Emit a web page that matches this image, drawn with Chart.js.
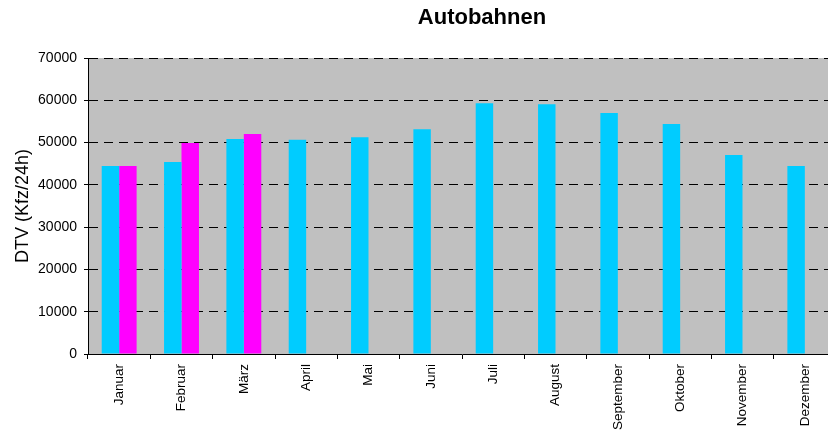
<!DOCTYPE html>
<html lang="de">
<head>
<meta charset="utf-8">
<title>Autobahnen</title>
<script src="https://cdn.jsdelivr.net/npm/chart.js@4"></script>
<style>
  html, body { margin: 0; padding: 0; background: #fff; overflow: hidden; }
  #chart { display: block; }
</style>
</head>
<body>
<canvas id="chart" width="842" height="432"></canvas>
<script>
// ─── Data ────────────────────────────────────────────
const months = ["Januar", "Februar", "März", "April", "Mai", "Juni", "Juli", "August", "September", "Oktober", "November", "Dezember"];
const dtvPrev = [44450, 45400, 50840, 50680, 51240, 53130, 59280, 59050, 56990, 54390, 47060, 44450];
const dtvCurr = [44450, 49900, 52020, null, null, null, null, null, null, null, null, null];
const yTicks = [0, 10000, 20000, 30000, 40000, 50000, 60000, 70000];

const FONT = "Arial, 'Liberation Sans', sans-serif";

// ─── Plugins ─────────────────────────────────────────
const plotBackground = {
  id: "plotBackground",
  beforeDraw(chart) {
    const { ctx, chartArea: a } = chart;
    ctx.save();
    ctx.fillStyle = "#c0c0c0";
    ctx.fillRect(a.left, a.top, a.right - a.left, a.bottom - a.top);
    ctx.restore();
  },
};

const titleText = {
  id: "titleText",
  afterDraw(chart) {
    const ctx = chart.ctx;
    ctx.save();
    ctx.font = "bold 22px " + FONT;
    ctx.fillStyle = "#000";
    ctx.textAlign = "center";
    ctx.textBaseline = "middle";
    ctx.fillText("Autobahnen", 482, 18);
    ctx.restore();
  },
};

// ─── Chart ───────────────────────────────────────────
new Chart(document.getElementById("chart").getContext("2d"), {
  type: "bar",
  data: {
    labels: months,
    datasets: [
      { label: "Vorjahr", data: dtvPrev, backgroundColor: "#00ccff", borderWidth: 0 },
      { label: "Aktuell", data: dtvCurr, backgroundColor: "#ff00ff", borderWidth: 0 },
    ],
  },
  options: {
    responsive: false,
    animation: false,
    categoryPercentage: 0.56,
    barPercentage: 1,
    layout: { padding: { top: 58, right: 6, left: 0, bottom: 0 } },
    plugins: { legend: { display: false }, tooltip: { enabled: false } },
    scales: {
      x: {
        grid: { offset: true, drawOnChartArea: false, color: "#000", tickLength: 5 },
        border: { color: "#000", width: 1 },
        ticks: {
          color: "#000",
          font: { family: FONT, size: 13.5 },
          minRotation: 90,
          maxRotation: 90,
          autoSkip: false,
          padding: 5,
        },
        afterFit: s => { s.height = 78; },
      },
      y: {
        min: 0,
        max: 70000,
        afterBuildTicks: s => { s.ticks = yTicks.map(v => ({ value: v })); },
        grid: { color: "#000", tickLength: 4 },
        border: { color: "#000", width: 1, dash: [9, 6] },
        ticks: {
          color: "#000",
          font: { family: FONT, size: 14 },
          padding: 7,
          callback: v => String(v),
        },
        title: {
          display: true,
          text: "DTV (Kfz/24h)",
          color: "#000",
          font: { family: FONT, size: 18 },
          padding: { top: 12, bottom: 0 },
        },
        afterFit: s => { s.width = 88; },
      },
    },
  },
  plugins: [plotBackground, titleText],
});
</script>
</body>
</html>
